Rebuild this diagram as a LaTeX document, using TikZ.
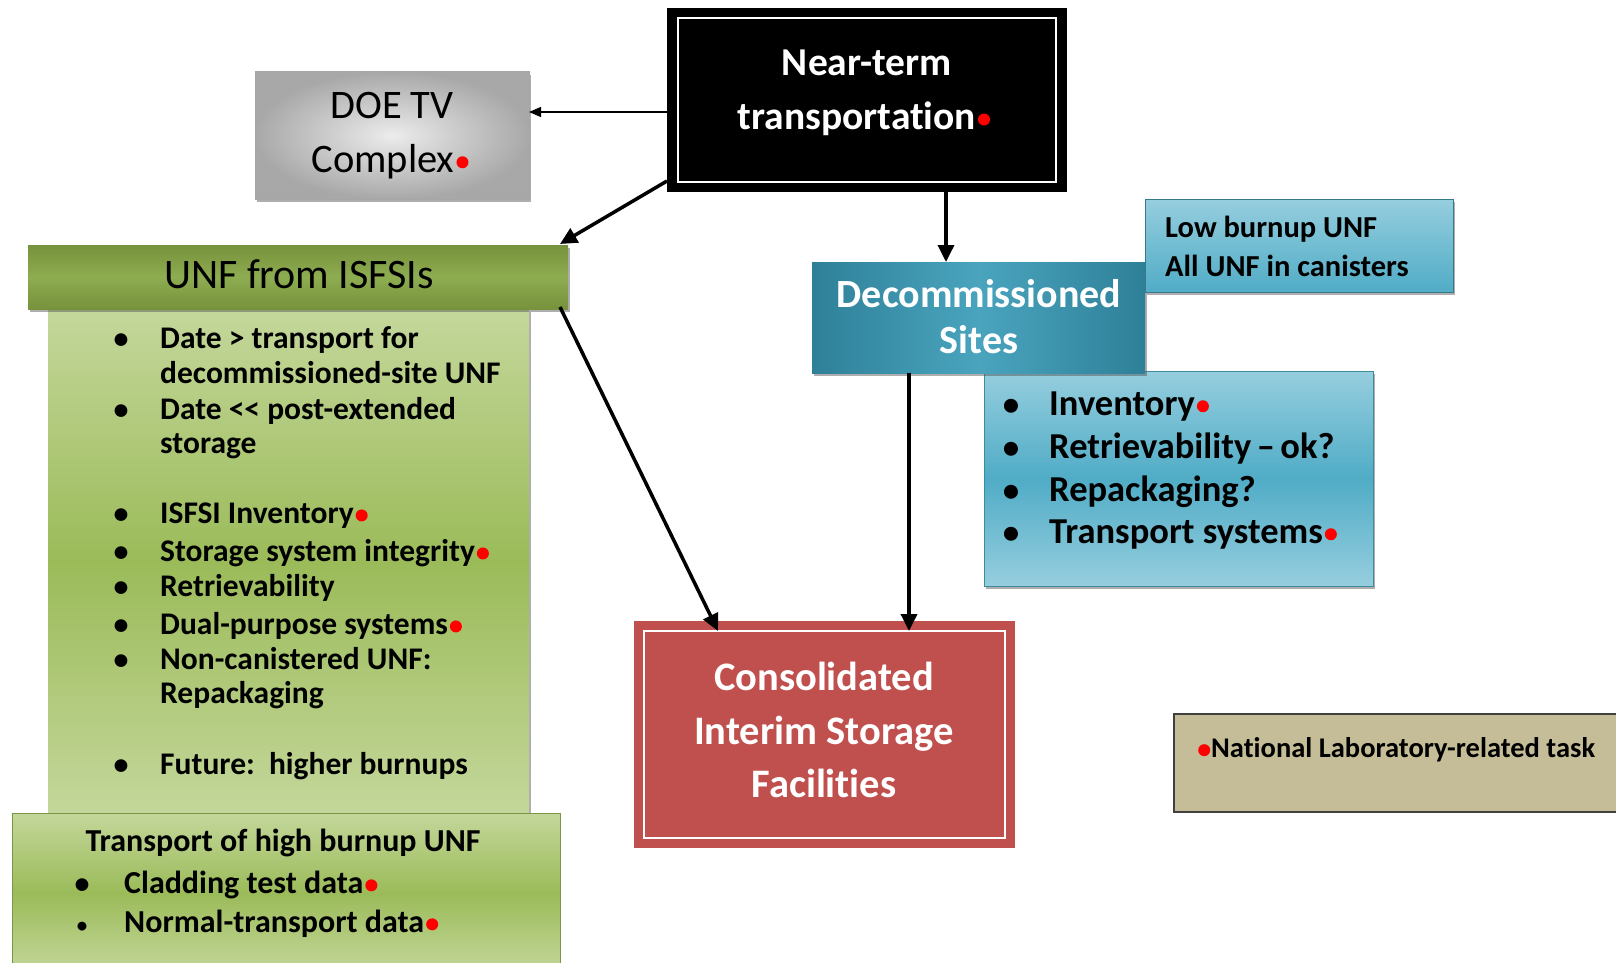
\documentclass[tikz,border=0pt]{standalone}
\usepackage{fontspec}
\setmainfont{Carlito}[Ligatures={NoCommon}]
\usetikzlibrary{arrows.meta,shadows,calc}
\definecolor{cisfred}{RGB}{192,80,77}
\definecolor{natlab}{RGB}{196,189,151}
\definecolor{teal}{RGB}{46,128,152}
\definecolor{tealmid}{RGB}{74,164,190}
\definecolor{lblue}{RGB}{150,206,222}
\definecolor{mblue}{RGB}{80,172,198}
\definecolor{lgreen}{RGB}{196,215,155}
\definecolor{mgreen}{RGB}{155,187,89}
\definecolor{hgreen}{RGB}{118,146,60}
\definecolor{hgreenmid}{RGB}{142,172,80}
\newcommand{\rdot}{\hspace{2pt}\tikz[baseline={(0pt,-0.24em)}]\fill[red] (0pt,0pt) circle (6pt);}
\tikzset{
  boxshape/.style={rectangle, inner sep=0pt, outer sep=0pt},
  shad/.style={drop shadow={shadow xshift=2pt,shadow yshift=-3pt,opacity=0.45,fill=black!70}},
  thickarr/.style={line width=3.5pt, -{Triangle[length=17pt,width=16pt]}},
  thinarr/.style={line width=1.3pt, -{Triangle[length=12pt,width=10pt]}},
  btext/.style={anchor=base west, inner sep=0pt, font=\bfseries\fontsize{31.5}{35}\selectfont},
  bul/.style={anchor=base, inner sep=0pt, font=\bfseries\fontsize{30}{35}\selectfont},
}
\begin{document}
\begin{tikzpicture}[x=1pt,y=-1pt]
\useasboundingbox (0,0) rectangle (1616,963);
\fill[white] (0,0) rectangle (1616,963);

% DOE TV Complex
\node[boxshape, shad, draw=gray!70, line width=1pt, inner color=gray!15, outer color=gray!68,
      minimum width=274pt, minimum height=127pt] (doe) at (392,135.5) {};
\node[anchor=base, inner sep=0pt, font=\fontsize{40.5}{54}\selectfont] (doe1) at (392,118) {DOE TV};
\node[anchor=base, inner sep=0pt, font=\fontsize{40.5}{54}\selectfont] (doe2) at (390,172) {Complex\rdot};

% Near-term transportation
\node[boxshape, fill=black, minimum width=400pt, minimum height=184pt] (near) at (867,100) {};
\draw[white, line width=2pt] ([xshift=11pt,yshift=-10pt]near.north west) rectangle ([xshift=-11pt,yshift=10pt]near.south east);
\node[anchor=base, inner sep=0pt, text=white, font=\bfseries\fontsize{39.5}{53}\selectfont] (near1) at (867,76) {Near-term};
\node[anchor=base, inner sep=0pt, text=white, font=\bfseries\fontsize{39.5}{53}\selectfont] (near2) at (864,129) {transportation\rdot};

% UNF body
\node[boxshape, shad, top color=lgreen, bottom color=lgreen, middle color=mgreen,
      minimum width=481pt, minimum height=505pt] (unfbody) at (288.5,561.5) {};
% UNF header
\node[boxshape, shad, top color=hgreen, bottom color=hgreen, middle color=hgreenmid,
      minimum width=540pt, minimum height=64pt] (unfhead) at (298,277) {};
\node[anchor=base, inner sep=0pt, font=\fontsize{42}{46}\selectfont] (unfh) at (299,288) {UNF from ISFSIs};

\node[bul] (b1) at (121,348) {\textbullet};
\node[btext] (t1) at (160,348) {Date > transport for};
\node[btext] (t1b) at (160,383) {decommissioned-site UNF};
\node[bul] (b2) at (121,419) {\textbullet};
\node[btext] (t2) at (160,419) {Date <\kern0pt< post-extended};
\node[btext] (t2b) at (160,453) {storage};
\node[bul] (b3) at (121,523) {\textbullet};
\node[btext] (t3) at (160,523) {ISFSI Inventory\rdot};
\node[bul] (b4) at (121,561) {\textbullet};
\node[btext] (t4) at (160,561) {Storage system integrity\rdot};
\node[bul] (b5) at (121,596) {\textbullet};
\node[btext] (t5) at (160,596) {Retrievability};
\node[bul] (b6) at (121,634) {\textbullet};
\node[btext] (t6) at (160,634) {Dual-purpose systems\rdot};
\node[bul] (b7) at (121,669) {\textbullet};
\node[btext] (t7) at (160,669) {Non-canistered UNF:};
\node[btext] (t7b) at (160,703) {Repackaging};
\node[bul] (b8) at (121,774) {\textbullet};
\node[btext] (t8) at (160,774) {Future:\ \ higher burnups};

% Transport of high burnup UNF
\node[boxshape, draw=mgreen!80!black, line width=0.6pt, top color=lgreen, bottom color=lgreen, middle color=mgreen,
      minimum width=548pt, minimum height=160pt] (trans) at (286,893) {};
\node[anchor=base, inner sep=0pt, font=\bfseries\fontsize{32}{35}\selectfont] (transh) at (283,851) {Transport of high burnup UNF};
\node[bul] (tb1) at (82,893) {\textbullet};
\node[btext, font=\bfseries\fontsize{32}{35}\selectfont] (tt1) at (124,893) {Cladding test data\rdot};
\node[bul, font=\bfseries\fontsize{21}{35}\selectfont] (tb2) at (82,932) {\textbullet};
\node[btext, font=\bfseries\fontsize{32}{35}\selectfont] (tt2) at (124,932) {Normal-transport data\rdot};

% Blue bullet box
\node[boxshape, shad, draw=mblue!80!black, line width=0.6pt, top color=lblue, bottom color=lblue, middle color=mblue,
      minimum width=389pt, minimum height=215pt] (dlist) at (1178.5,478.5) {};
% Decommissioned sites
\node[boxshape, shad, left color=teal, right color=teal, middle color=tealmid,
      minimum width=333pt, minimum height=111pt] (decom) at (978.5,317.5) {};
\node[anchor=base, inner sep=0pt, text=white, font=\bfseries\fontsize{40}{46}\selectfont] (dec1) at (979,307) {Decommissioned};
\node[anchor=base, inner sep=0pt, text=white, font=\bfseries\fontsize{40}{46}\selectfont] (dec2) at (979,353) {Sites};
% Low burnup
\node[boxshape, shad, top color=lblue, bottom color=mblue, draw=mblue!70!black, line width=0.6pt,
      minimum width=308pt, minimum height=93pt] (low) at (1299,245.5) {};
\node[anchor=base west, inner sep=0pt, font=\bfseries\fontsize{30.5}{38}\selectfont] (low1) at (1165,237) {Low burnup UNF};
\node[anchor=base west, inner sep=0pt, font=\bfseries\fontsize{30.5}{38}\selectfont] (low2) at (1165,276) {All UNF in canisters};

\node[bul, font=\bfseries\fontsize{33}{43}\selectfont] (db1) at (1011,415) {\textbullet};
\node[btext, font=\bfseries\fontsize{36.5}{43}\selectfont] (dt1) at (1049,415) {Inventory\rdot};
\node[bul, font=\bfseries\fontsize{33}{43}\selectfont] (db2) at (1011,458) {\textbullet};
\node[btext, font=\bfseries\fontsize{36.5}{43}\selectfont] (dt2) at (1049,458) {Retrievability\hspace{0.15em}–\hspace{0.15em}ok?};
\node[bul, font=\bfseries\fontsize{33}{43}\selectfont] (db3) at (1011,501) {\textbullet};
\node[btext, font=\bfseries\fontsize{36.5}{43}\selectfont] (dt3) at (1049,501) {Repackaging?};
\node[bul, font=\bfseries\fontsize{33}{43}\selectfont] (db4) at (1011,543) {\textbullet};
\node[btext, font=\bfseries\fontsize{36.5}{43}\selectfont] (dt4) at (1049,543) {Transport systems\rdot};

% CISF
\node[boxshape, fill=cisfred, minimum width=381pt, minimum height=227pt] (cisf) at (824.5,734.5) {};
\draw[white, line width=2pt] ([xshift=10pt,yshift=-10pt]cisf.north west) rectangle ([xshift=-10pt,yshift=10pt]cisf.south east);
\node[anchor=base, inner sep=0pt, text=white, font=\bfseries\fontsize{40.5}{54}\selectfont] (c1) at (824,690) {Consolidated};
\node[anchor=base, inner sep=0pt, text=white, font=\bfseries\fontsize{40.5}{54}\selectfont] (c2) at (824,744) {Interim Storage};
\node[anchor=base, inner sep=0pt, text=white, font=\bfseries\fontsize{40.5}{54}\selectfont] (c3) at (824,797) {Facilities};

% National laboratory legend
\node[boxshape, draw=black!75, line width=1.5pt, fill=natlab, minimum width=460pt, minimum height=98pt] (nat) at (1404,763) {};
\node[anchor=base west, inner sep=0pt, font=\bfseries\fontsize{28.5}{30}\selectfont] (natt) at (1196,757) {\rdot\hspace{1pt}National Laboratory-related task};

% connectors
\coordinate (nearA) at ([yshift=-12pt]near.west);
\coordinate (nearB) at ([yshift=11pt]near.south west);
\coordinate (headNE) at ([xshift=-8pt,yshift=1pt]unfhead.north east);
\coordinate (nearC) at ([xshift=79pt]near.south);
\coordinate (headSE) at ([xshift=-8pt,yshift=2pt]unfhead.south east);
\coordinate (cisfA) at ([xshift=84pt,yshift=-10pt]cisf.north west);
\coordinate (decS) at ([xshift=-69.5pt]decom.south);
\coordinate (cisfTop) at ([yshift=-10pt]cisf.north);
\draw[thinarr] (nearA) -- (nearA -| doe.east);
\draw[thickarr] (nearB) -- (headNE);
\draw[thickarr] (nearC) -- (nearC |- decom.north);
\draw[thickarr] (headSE) -- (cisfA);
\draw[thickarr] (decS) -- (decS |- cisfTop);
\end{tikzpicture}
\end{document}
